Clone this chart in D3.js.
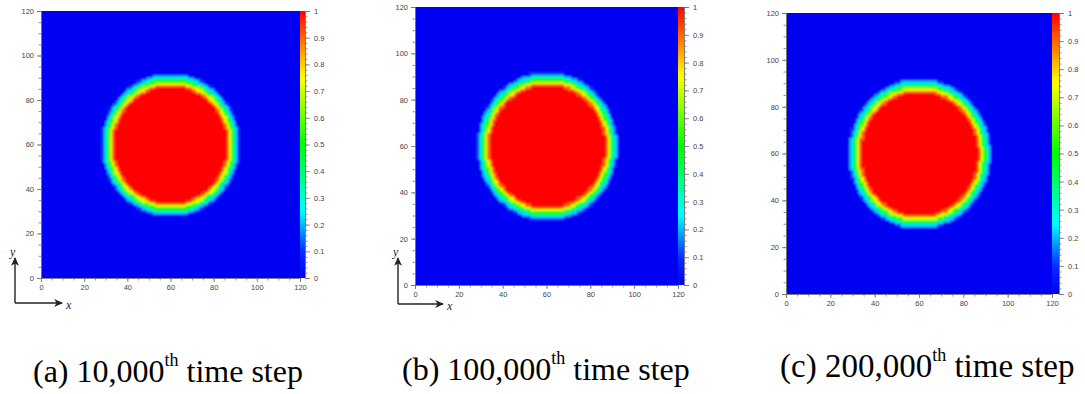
<!DOCTYPE html>
<html>
<head>
<meta charset="utf-8">
<script src="https://cdn.jsdelivr.net/npm/d3@7/dist/d3.min.js"></script>
<style>
  body { margin: 0; background: #fff; }
  svg { display: block; }
</style>
</head>
<body>
<script>
// ---- data ----
var axisTicks = [0, 20, 40, 60, 80, 100, 120];
var axisMinorTicks = [0, 5, 10, 15, 20, 25, 30, 35, 40, 45, 50, 55, 60, 65, 70, 75, 80, 85, 90, 95, 100, 105, 110, 115, 120];
var barTicks = [0, 0.1, 0.2, 0.3, 0.4, 0.5, 0.6, 0.7, 0.8, 0.9, 1];
var barLabels = ["0", "0.1", "0.2", "0.3", "0.4", "0.5", "0.6", "0.7", "0.8", "0.9", "1"];
var panelLetters = ["(a)", "(b)", "(c)"];
var timeSteps = ["10,000", "100,000", "200,000"];

// grid is 120 x 120 lattice cells, drop centre per snapshot
var gridCells = 120;
var dropCenters = [[60, 60], [60.4, 60], [60.2, 60]];

// radial phase profile of the drop (distance from centre -> phase value)
var profileRadius = [26, 27, 28, 29, 30, 31, 32];
var profilePhi = [1, 0.9, 0.72, 0.52, 0.38, 0.22, 0.1];

// colour map stops (rainbow, as in the colour bar)
var colourStops = [0, 0.1, 0.25, 0.5, 0.75, 1];
var colourValues = ["#0000f2", "#0a2cff", "#00ffff", "#00ff00", "#ffff00", "#ff0000"];

// ---- layout ----
var W = 1085, H = 394;
var panels = [
  { left: 41, right: 300, top: 11, bottom: 278, barW: 5, arrow: { x: 15, y: 303, top: 258, right: 62 }, cap: { x: 33, y: 382, size: 32 } },
  { left: 415, right: 678, top: 7, bottom: 285, barW: 6, arrow: { x: 398, y: 304, top: 258, right: 443 }, cap: { x: 402, y: 380, size: 32 } },
  { left: 786, right: 1052, top: 13, bottom: 294, barW: 7, arrow: null, cap: { x: 780, y: 377, size: 33 } }
];

var colour = d3.scaleLinear().domain(colourStops).range(colourValues).clamp(true);

function phaseAt(d) {
  var k = Math.round(d) - profileRadius[0];
  if (k < 0) return profilePhi[0];
  if (k >= profilePhi.length) return 0;
  return profilePhi[k];
}

var svg = d3.select("body").append("svg")
  .attr("width", W)
  .attr("height", H)
  .style("font-family", "'Liberation Sans', Arial, sans-serif");

var defs = svg.append("defs");

// one soft-focus filter for all heat maps, region covers the whole page
defs.append("filter").attr("id", "soft")
  .attr("filterUnits", "userSpaceOnUse")
  .attr("x", 0).attr("y", 0).attr("width", W).attr("height", H)
  .append("feGaussianBlur").attr("stdDeviation", 0.8);

// arrow head for the x/y direction sketch
defs.append("marker")
  .attr("id", "head")
  .attr("viewBox", "0 0 10 10")
  .attr("refX", 8).attr("refY", 5)
  .attr("markerWidth", 7).attr("markerHeight", 7)
  .attr("orient", "auto")
  .append("path")
  .attr("d", "M0,1 L9,5 L0,9 L2.5,5 Z")
  .attr("fill", "#222");

// colour bar gradient built from the colour scale
var grad = defs.append("linearGradient")
  .attr("id", "bargrad")
  .attr("x1", 0).attr("y1", 1).attr("x2", 0).attr("y2", 0);
d3.range(0, 1.0001, 0.02).forEach(function(t) {
  grad.append("stop").attr("offset", t).attr("stop-color", colour(t));
});

panels.forEach(function(p, idx) {
  var x = d3.scaleLinear().domain([0, gridCells]).range([p.left, p.right]);
  var y = d3.scaleLinear().domain([0, gridCells]).range([p.bottom, p.top]);
  var c = dropCenters[idx];

  var cells = [];
  for (var i = 0; i < gridCells; i++) {
    for (var j = 0; j < gridCells; j++) {
      var d = Math.hypot(i + 0.5 - c[0], j + 0.5 - c[1]);
      cells.push({ i: i, j: j, v: phaseAt(d) });
    }
  }

  var g = svg.append("g");

  defs.append("clipPath").attr("id", "clip" + idx)
    .append("rect")
    .attr("x", p.left).attr("y", p.top)
    .attr("width", p.right - p.left).attr("height", p.bottom - p.top);

  var clipG = g.append("g").attr("clip-path", "url(#clip" + idx + ")");
  var heat = clipG.append("g").attr("filter", "url(#soft)");
  heat.append("rect")
    .attr("x", p.left - 4).attr("y", p.top - 4)
    .attr("width", p.right - p.left + 8).attr("height", p.bottom - p.top + 8)
    .attr("fill", colour(0));
  heat.append("g")
    .attr("shape-rendering", "crispEdges")
    .selectAll("rect")
    .data(cells)
    .enter()
    .append("rect")
    .attr("x", function(e) { return x(e.i); })
    .attr("y", function(e) { return y(e.j + 1); })
    .attr("width", x(1) - x(0) + 0.5)
    .attr("height", y(0) - y(1) + 0.5)
    .attr("fill", function(e) { return colour(e.v); });

  // axes
  var axColour = "#777";
  var bottomMinor = g.append("g")
    .attr("transform", "translate(0," + p.bottom + ")")
    .call(d3.axisBottom(x).tickValues(axisMinorTicks).tickSize(2.5).tickFormat(""));
  var bottomMajor = g.append("g")
    .attr("transform", "translate(0," + p.bottom + ")")
    .call(d3.axisBottom(x).tickValues(axisTicks).tickSize(4).tickPadding(3));
  var leftMinor = g.append("g")
    .attr("transform", "translate(" + p.left + ",0)")
    .call(d3.axisLeft(y).tickValues(axisMinorTicks).tickSize(2.5).tickFormat(""));
  var leftMajor = g.append("g")
    .attr("transform", "translate(" + p.left + ",0)")
    .call(d3.axisLeft(y).tickValues(axisTicks).tickSize(4).tickPadding(3));

  [bottomMinor, bottomMajor, leftMinor, leftMajor].forEach(function(a) {
    a.selectAll("path.domain").attr("stroke", axColour).attr("stroke-width", 0.8);
    a.selectAll("line").attr("stroke", axColour).attr("stroke-width", 0.8);
    a.selectAll("text").attr("fill", "#444").style("font-size", "7.5px");
  });

  // colour bar
  var barX = p.right;
  var yb = d3.scaleLinear().domain([0, 1]).range([p.bottom, p.top]);
  g.append("rect")
    .attr("x", barX).attr("y", p.top)
    .attr("width", p.barW).attr("height", p.bottom - p.top)
    .attr("fill", "url(#bargrad)");

  var barMinor = g.append("g")
    .attr("transform", "translate(" + (barX + p.barW) + ",0)")
    .call(d3.axisRight(yb).tickValues(d3.range(0, 1.0001, 0.02)).tickSize(2.5).tickFormat(""));
  var barMajor = g.append("g")
    .attr("transform", "translate(" + (barX + p.barW) + ",0)")
    .call(d3.axisRight(yb).tickValues(barTicks).tickSize(5).tickPadding(4)
      .tickFormat(function(v, k) { return barLabels[k]; }));
  [barMinor, barMajor].forEach(function(a) {
    a.selectAll("path.domain").attr("stroke", axColour).attr("stroke-width", 0.8);
    a.selectAll("line").attr("stroke", axColour).attr("stroke-width", 0.8);
    a.selectAll("text").attr("fill", "#444").style("font-size", "7.5px");
  });

  // x / y direction sketch
  if (p.arrow) {
    var ar = p.arrow;
    g.append("path")
      .attr("d", "M" + ar.x + "," + ar.y + " L" + ar.x + "," + ar.top)
      .attr("stroke", "#222").attr("stroke-width", 1.4).attr("fill", "none")
      .attr("marker-end", "url(#head)");
    g.append("path")
      .attr("d", "M" + ar.x + "," + ar.y + " L" + ar.right + "," + ar.y)
      .attr("stroke", "#222").attr("stroke-width", 1.4).attr("fill", "none")
      .attr("marker-end", "url(#head)");
    g.append("text")
      .attr("x", ar.x - 5).attr("y", ar.top - 2)
      .style("font-family", "'Liberation Serif', serif")
      .style("font-style", "italic").style("font-size", "12px")
      .attr("fill", "#222")
      .text("y");
    g.append("text")
      .attr("x", ar.right + 4).attr("y", ar.y + 6)
      .style("font-family", "'Liberation Serif', serif")
      .style("font-style", "italic").style("font-size", "12px")
      .attr("fill", "#222")
      .text("x");
  }

  // caption
  var cap = svg.append("text")
    .attr("x", p.cap.x).attr("y", p.cap.y)
    .style("font-family", "'Liberation Serif', 'Times New Roman', serif")
    .style("font-size", p.cap.size + "px")
    .attr("fill", "#000");
  cap.append("tspan").text(panelLetters[idx] + " " + timeSteps[idx]);
  cap.append("tspan").attr("dy", -16).style("font-size", "18px").text("th");
  cap.append("tspan").attr("dy", 16).text(" time step");
});
</script>
</body>
</html>
